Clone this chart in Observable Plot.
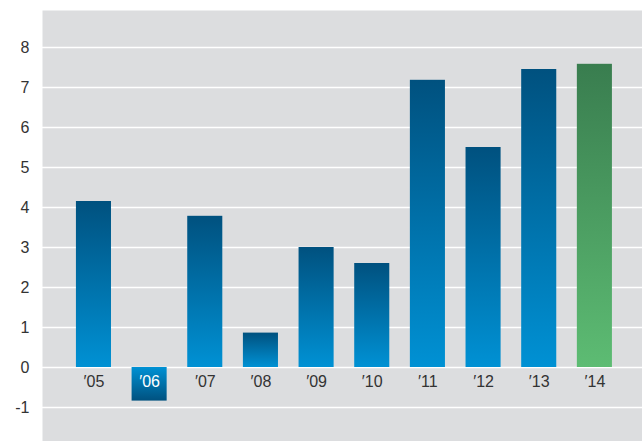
<!DOCTYPE html>
<html>
<head>
<meta charset="utf-8">
<script src="https://cdn.jsdelivr.net/npm/d3@7"></script>
<script src="https://cdn.jsdelivr.net/npm/@observablehq/plot@0.6"></script>
<style>
  html, body { margin: 0; padding: 0; background: #ffffff; }
  #chart svg { display: block; }
</style>
</head>
<body>
<div id="chart"></div>
<script>
const years = ["′05", "′06", "′07", "′08", "′09", "′10", "′11", "′12", "′13", "′14"];
const values = [4.15, -0.84, 3.78, 0.86, 3.0, 2.6, 7.18, 5.5, 7.45, 7.58];
const highlight = "′14";
const yTicks = [-1, 0, 1, 2, 3, 4, 5, 6, 7, 8];

const data = years.map((year, i) => ({year, value: values[i]}));

const fillFor = d => d.year === highlight ? "url(#gGreen)" : d.value < 0 ? "url(#gBlueRev)" : "url(#gBlue)";

const plot = Plot.plot({
  width: 642,
  height: 441,
  marginLeft: 42,
  marginRight: 0,
  marginTop: 10,
  marginBottom: 0,
  style: {fontFamily: "'Liberation Sans', Arial, Helvetica, sans-serif", fontSize: "16px", color: "#333333", background: "#ffffff"},
  x: {domain: years, axis: null, paddingInner: 0.37, paddingOuter: 0.575, align: 0.53, round: false},
  y: {domain: [-1.85, 8.925], axis: null},
  color: {type: "identity"},
  marks: [
    Plot.frame({fill: "#dcdddf", stroke: "none"}),
    Plot.gridY(yTicks, {stroke: "#ffffff", strokeOpacity: 1, strokeWidth: 1.6}),
    Plot.barY(data, {x: "year", y: "value", fill: fillFor}),
    Plot.axisY(yTicks, {label: null, tickSize: 0, tickPadding: 13, tickFormat: d => String(d), fontSize: 16, fill: "#333333"}),
    Plot.text(data, {x: "year", y: () => 0, text: "year", dy: 14, fontSize: 16, fill: d => d.value < 0 ? "#ffffff" : "#333333"})
  ]
});

const svg = d3.select(plot);
const defs = svg.insert("defs", ":first-child");
function grad(id, top, bottom) {
  const g = defs.append("linearGradient").attr("id", id).attr("x1", 0).attr("y1", 0).attr("x2", 0).attr("y2", 1);
  g.append("stop").attr("offset", "0%").attr("stop-color", top);
  g.append("stop").attr("offset", "100%").attr("stop-color", bottom);
}
grad("gBlue", "#00517f", "#0091d4");
grad("gBlueRev", "#0091d4", "#00517f");
grad("gGreen", "#397d4f", "#5dbc73");

document.getElementById("chart").appendChild(plot);
</script>
</body>
</html>
